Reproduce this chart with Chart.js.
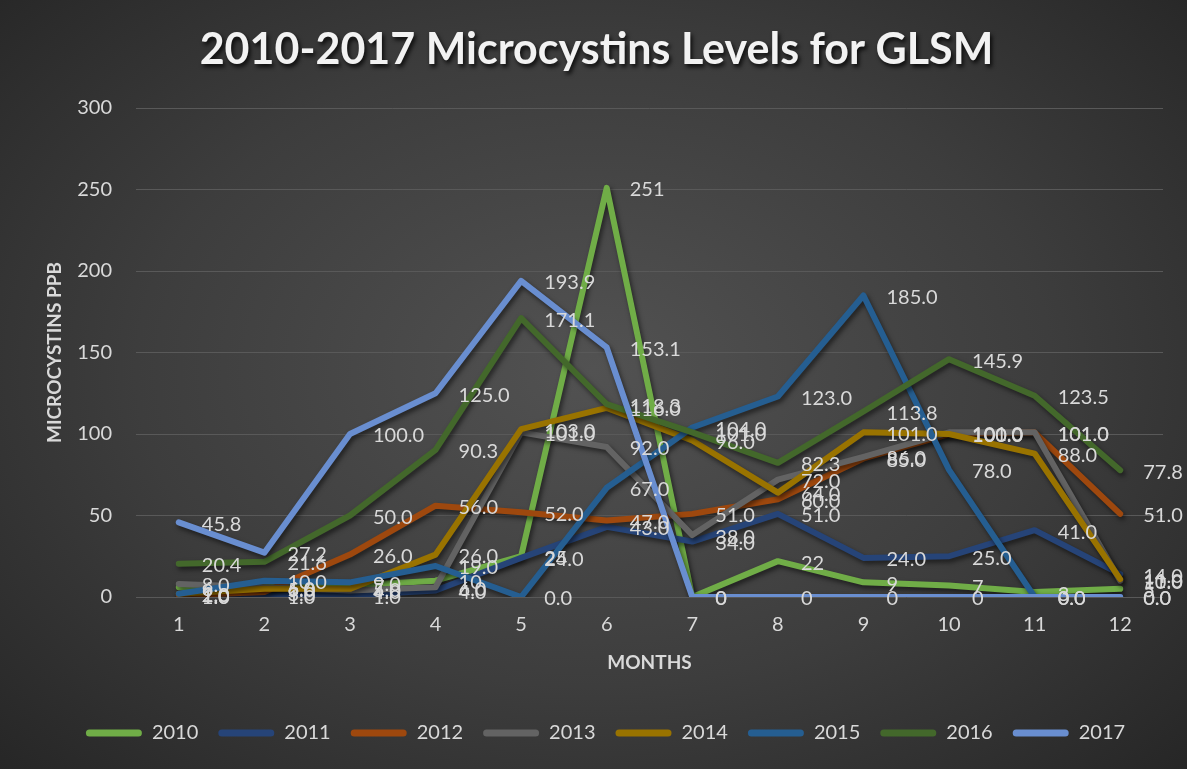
<!DOCTYPE html>
<html>
<head>
<meta charset="utf-8">
<title>2010-2017 Microcystins Levels for GLSM</title>
<script src="https://cdn.jsdelivr.net/npm/chart.js@4.4.0/dist/chart.umd.min.js"></script>
<style>
  html, body { margin: 0; padding: 0; }
  body {
    width: 1187px;
    height: 769px;
    overflow: hidden;
    background: radial-gradient(ellipse 70% 75% at 50% 48%, #525252 0%, #3d3d3d 55%, #262626 100%);
  }
  .chart-container { position: relative; width: 1187px; height: 769px; }
</style>
</head>
<body>
<div class="chart-container"><canvas id="chart"></canvas></div>
<script>
// 월 (x축)
const months = ['1', '2', '3', '4', '5', '6', '7', '8', '9', '10', '11', '12'];
const years = ['2010', '2011', '2012', '2013', '2014', '2015', '2016', '2017'];

// 연도별 측정값 (ppb)
const v2010 = [6, 6, 7, 10, 25, 251, 0, 22, 9, 7, 3, 5];
const v2011 = [1, 1, 1, 4, 24, 43, 34, 51, 24, 25, 41, 14];
const v2012 = [1, 3, 26, 56, 52, 47, 51, 60, 85, 100, 101, 51];
const v2013 = [8, 6, 4, 6, 101, 92, 38, 72, 86, 101, 101, 10];
const v2014 = [2, 5, 5, 26, 103, 116, 96, 64, 101, 100, 88, 11];
const v2015 = [2, 10, 9, 19, 0, 67, 104, 123, 185, 78, 0, 0];
const v2016 = [20.4, 21.6, 50, 90.3, 171.1, 118.3, 101, 82.3, 113.8, 145.9, 123.5, 77.8];
const v2017 = [45.8, 27.2, 100, 125, 193.9, 153.1, 0, 0, 0, 0, 0, 0];

const yTicks = [0, 50, 100, 150, 200, 250, 300];

const colors = ['#70ad47', '#264478', '#9e480e', '#636363', '#997300', '#255e91', '#43682b', '#698ed0'];
const labelDecimals = [0, 1, 1, 1, 1, 1, 1, 1];
// 2017년 7~10월 라벨은 정수로 표시됨
const intLabelMonths2017 = ['7', '8', '9', '10'];

const series = [v2010, v2011, v2012, v2013, v2014, v2015, v2016, v2017];
const textColor = '#d9d9d9';

function formatLabel(dsIndex, j, value) {
  if (dsIndex === 7 && intLabelMonths2017.includes(months[j])) return String(Math.round(value));
  return value.toFixed(labelDecimals[dsIndex]);
}

// 선 그림자
const shadowPlugin = {
  id: 'lineShadow',
  beforeDatasetDraw(chart) {
    const c = chart.ctx;
    c.save();
    c.shadowColor = 'rgba(0, 0, 0, 0.55)';
    c.shadowBlur = 5;
    c.shadowOffsetX = 2;
    c.shadowOffsetY = 3;
  },
  afterDatasetDraw(chart) {
    chart.ctx.restore();
  }
};

// 데이터 라벨 (점 오른쪽)
const labelPlugin = {
  id: 'pointLabels',
  afterDatasetsDraw(chart) {
    const c = chart.ctx;
    c.save();
    c.font = '20px Lato';
    c.fillStyle = textColor;
    c.textAlign = 'left';
    c.textBaseline = 'middle';
    chart.data.datasets.forEach((ds, i) => {
      const meta = chart.getDatasetMeta(i);
      meta.data.forEach((pt, j) => {
        c.fillText(formatLabel(i, j, ds.data[j]), pt.x + 23, pt.y + 2);
      });
    });
    c.restore();
  }
};

// 그림자 있는 제목
const titleText = '2010-2017 Microcystins Levels for GLSM';
const titlePlugin = {
  id: 'shadowTitle',
  afterDraw(chart) {
    const c = chart.ctx;
    const tb = chart.titleBlock;
    c.save();
    c.font = 'bold 43px Lato';
    c.fillStyle = '#f2f2f2';
    c.textAlign = 'center';
    c.textBaseline = 'middle';
    c.shadowColor = 'rgba(0, 0, 0, 0.8)';
    c.shadowBlur = 4;
    c.shadowOffsetX = 2;
    c.shadowOffsetY = 3;
    c.fillText(titleText, chart.width / 2 + 3, tb.top + 26 + 24);
    c.restore();
  }
};

// 범례를 원본처럼 약간 오른쪽으로
const legendShift = {
  id: 'legendShift',
  afterLayout(chart) {
    if (chart.legend) {
      chart.legend.left += 24;
      chart.legend.right += 24;
    }
  }
};

const ctx = document.getElementById('chart').getContext('2d');
new Chart(ctx, {
  type: 'line',
  data: {
    labels: months,
    datasets: years.map((y, i) => ({
      label: y,
      data: series[i],
      borderColor: colors[i],
      backgroundColor: colors[i],
      borderWidth: 6,
      borderCapStyle: 'round',
      borderJoinStyle: 'round',
      pointRadius: 0,
      pointHoverRadius: 0,
      tension: 0,
      fill: false,
      order: years.length - i, // 뒤 연도가 위에 그려지도록
    })),
  },
  options: {
    responsive: true,
    maintainAspectRatio: false,
    animation: false,
    layout: { padding: { top: 0, right: 24, bottom: 16, left: 0 } },
    scales: {
      x: {
        offset: true,
        grid: { display: false },
        border: { display: false },
        ticks: { color: textColor, font: { family: 'Lato', size: 20 }, padding: 8 },
        title: {
          display: true,
          text: 'MONTHS',
          color: textColor,
          font: { family: 'Lato', size: 19, weight: 'bold' },
          padding: { top: 0, bottom: 28.6 },
        },
        afterFit(scale) { scale.height = 106; },
      },
      y: {
        min: 0,
        max: 300,
        afterBuildTicks(scale) { scale.ticks = yTicks.map(v => ({ value: v })); },
        grid: { color: '#595959', lineWidth: 1, drawTicks: false },
        border: { display: false },
        ticks: { color: textColor, font: { family: 'Lato', size: 20 }, padding: 24 },
        title: {
          display: true,
          text: 'MICROCYSTINS PPB',
          color: textColor,
          font: { family: 'Lato', size: 19, weight: 'bold' },
          padding: { top: 43.6, bottom: 0 },
        },
        afterFit(scale) { scale.width = 136; },
      },
    },
    plugins: {
      title: {
        display: true,
        text: titleText,
        color: 'rgba(0,0,0,0)',
        font: { family: 'Lato', size: 40, weight: 'bold' },
        padding: { top: 26, bottom: 34 },
      },
      legend: {
        position: 'bottom',
        maxHeight: 60,
        labels: {
          color: textColor,
          font: { family: 'Lato', size: 20 },
          boxWidth: 56,
          boxHeight: 7,
          padding: 20,
          sort: (a, b) => a.datasetIndex - b.datasetIndex,
          generateLabels(chart) {
            const items = Chart.defaults.plugins.legend.labels.generateLabels(chart);
            return items.map(it => Object.assign(it, { lineWidth: 0, borderRadius: 3.5 }));
          },
        },
      },
      tooltip: { enabled: false },
    },
  },
  plugins: [shadowPlugin, labelPlugin, titlePlugin, legendShift],
});
</script>
</body>
</html>
